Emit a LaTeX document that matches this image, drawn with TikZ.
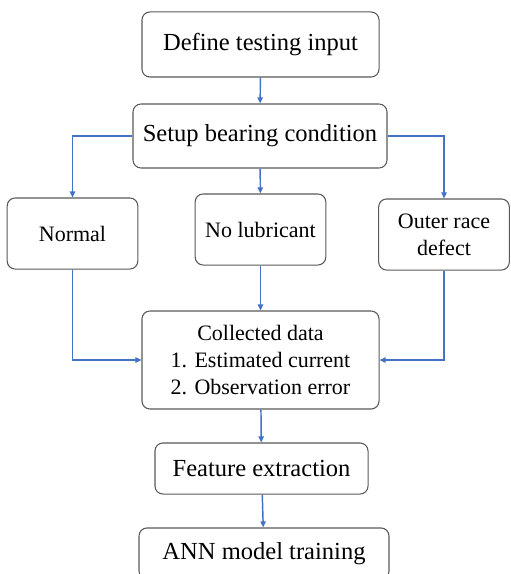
\documentclass[tikz,border=0pt]{standalone}
\usepackage{fontspec}
\setmainfont{LiberationSerif}[Extension=.ttf, UprightFont=*-Regular, BoldFont=*-Bold, ItalicFont=*-Italic]
\usetikzlibrary{arrows.meta}

\begin{document}
\begin{tikzpicture}[
        x=0.75pt, y=-0.75pt,
        flow box/.style={draw=black!65, rounded corners=6pt, line width=0.8pt, align=center, inner sep=0pt},
        big text/.style={font=\rmfamily\fontsize{18.4}{22}\selectfont},
        small text/.style={font=\rmfamily\fontsize{16.5}{20.2}\selectfont},
        flow arrow/.style={draw={rgb,255:red,68;green,114;blue,196}, line width=1.1pt, -{Triangle[length=4.5pt,width=4pt]}},
    ]

    % Khung hình (cắt phần dưới của ô cuối)
    \clip (0,0) rectangle (510,574);

    % Các bước chính
    \node[flow box, big text, minimum width=177.8pt, minimum height=48.8pt] (define) at (260.5, 44.5) {Define testing input};
    \node[flow box, big text, minimum width=190.5pt, minimum height=48pt] (setup) at (260, 136) {Setup bearing condition};

    % Ba điều kiện vòng bi
    \foreach \name/\cx/\cy/\label in {normal/72.5/233.5/Normal, nolub/260.5/229.5/No lubricant, outer/444/234.5/{Outer race\\defect}} {
        \node[flow box, small text, minimum width=98pt, minimum height=53.3pt] (\name) at (\cx, \cy) {\label};
    }

    % Dữ liệu thu thập và các bước sau
    \node[flow box, small text, minimum width=177.8pt, minimum height=73.5pt] (collected) at (260.5, 360) {Collected data\\1. Estimated current\\2. Observation error};
    \node[flow box, big text, minimum width=159.8pt, minimum height=38.3pt] (feature) at (261.5, 468.5) {Feature extraction};
    \node[flow box, big text, minimum width=187.5pt, minimum height=38.3pt] (ann) at (264, 553.5) {ANN model training};

    % Mũi tên
    \draw[flow arrow] (define) -- (setup);
    \draw[flow arrow] (setup.west) -| (normal.north);
    \draw[flow arrow] (setup) -- (nolub);
    \draw[flow arrow] (setup.east) -| (outer.north);
    \draw[flow arrow] (normal.south) |- (collected.west);
    \draw[flow arrow] (nolub) -- (collected);
    \draw[flow arrow] (outer.south) |- (collected.east);
    \draw[flow arrow] (collected) -- (feature);
    \draw[flow arrow] (feature) -- (ann);

\end{tikzpicture}
\end{document}
